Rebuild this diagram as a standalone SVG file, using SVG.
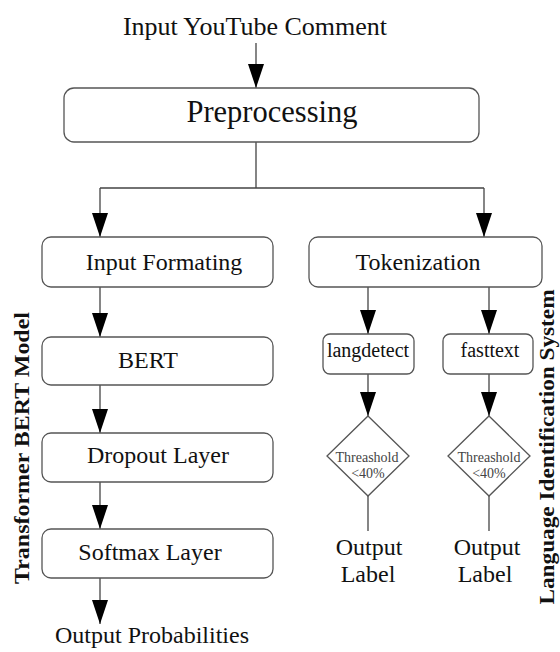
<svg xmlns="http://www.w3.org/2000/svg" width="560" height="652" viewBox="0 0 560 652">
  <style>
    .box { fill: #ffffff; stroke: #555555; stroke-width: 1.3; }
    .dia { fill: #ffffff; stroke: #555555; stroke-width: 1.3; }
    .edge { fill: none; stroke: #444444; stroke-width: 1.3; }
    .t { font-family: "Liberation Serif", "Times New Roman", serif; fill: #111111; text-anchor: middle; }
    .t24 { font-size: 24px; }
    .t20 { font-size: 20px; }
    .small { font-size: 14px; fill: #444444; }
    .side { font-size: 22px; font-weight: bold; }
  </style>
  <defs>
    <marker id="arrowV" viewBox="0 0 24 16" markerWidth="24" markerHeight="16" refX="24" refY="8" orient="auto" markerUnits="userSpaceOnUse">
      <path d="M0,0 L24,8 L0,16 Z" fill="#000000"/>
    </marker>
  </defs>

  <!-- input label -->
  <g id="input">
    <text class="t" x="255" y="35" font-size="26">Input YouTube Comment</text>
  </g>

  <!-- connectors -->
  <g id="connectors">
    <path class="edge" d="M256,43 V88" marker-end="url(#arrowV)"/>
    <path class="edge" d="M256,142 V188 M100,188 H484"/>
    <path class="edge" d="M100,188 V237" marker-end="url(#arrowV)"/>
    <path class="edge" d="M484,188 V237" marker-end="url(#arrowV)"/>
    <path class="edge" d="M100,287 V337" marker-end="url(#arrowV)"/>
    <path class="edge" d="M100,385 V433" marker-end="url(#arrowV)"/>
    <path class="edge" d="M100,482 V529" marker-end="url(#arrowV)"/>
    <path class="edge" d="M100,578 V624" marker-end="url(#arrowV)"/>
    <path class="edge" d="M368,287 V334" marker-end="url(#arrowV)"/>
    <path class="edge" d="M489,287 V334" marker-end="url(#arrowV)"/>
    <path class="edge" d="M368,374 V416" marker-end="url(#arrowV)"/>
    <path class="edge" d="M489,374 V416" marker-end="url(#arrowV)"/>
    <path class="edge" d="M368,496 V531"/>
    <path class="edge" d="M489,496 V531"/>
  </g>

  <g id="preprocessing">
    <rect class="box" x="64" y="88" width="415" height="54" rx="10"/>
    <text class="t" x="272" y="122" font-size="30.5">Preprocessing</text>
  </g>

  <g id="input-formating">
    <rect class="box" x="42" y="237" width="231" height="50" rx="9"/>
    <text class="t t24" x="164" y="270">Input Formating</text>
  </g>

  <g id="bert">
    <rect class="box" x="42" y="337" width="231" height="48" rx="9"/>
    <text class="t t24" x="148" y="368">BERT</text>
  </g>

  <g id="dropout">
    <rect class="box" x="42" y="433" width="231" height="49" rx="9"/>
    <text class="t t24" x="158" y="463">Dropout Layer</text>
  </g>

  <g id="softmax">
    <rect class="box" x="42" y="529" width="231" height="49" rx="9"/>
    <text class="t t24" x="150" y="560">Softmax Layer</text>
  </g>

  <g id="output-probabilities">
    <text class="t t24" x="152" y="643">Output Probabilities</text>
  </g>

  <g id="tokenization">
    <rect class="box" x="309" y="237" width="233" height="50" rx="9"/>
    <text class="t t24" x="418" y="270">Tokenization</text>
  </g>

  <g id="langdetect">
    <rect class="box" x="323" y="334" width="91" height="40" rx="7"/>
    <text class="t t20" x="368" y="357">langdetect</text>
  </g>

  <g id="fasttext">
    <rect class="box" x="443" y="334" width="90" height="40" rx="7"/>
    <text class="t t20" x="490" y="357">fasttext</text>
  </g>

  <g id="threshold-1">
    <path class="dia" d="M368,416 L409,456 L368,496 L327,456 Z"/>
    <text class="t small" x="367" y="462">Threashold</text>
    <text class="t small" x="368" y="478">&lt;40%</text>
  </g>

  <g id="threshold-2">
    <path class="dia" d="M489,416 L530,456 L489,496 L448,456 Z"/>
    <text class="t small" x="489" y="462">Threashold</text>
    <text class="t small" x="489" y="478">&lt;40%</text>
  </g>

  <g id="output-label-1">
    <text class="t t24" x="369" y="555">Output</text>
    <text class="t t24" x="368" y="582">Label</text>
  </g>

  <g id="output-label-2">
    <text class="t t24" x="487" y="555">Output</text>
    <text class="t t24" x="485" y="582">Label</text>
  </g>

  <!-- side captions, stretched along their length -->
  <g id="transformer-label">
    <text class="t side" transform="translate(29,448) rotate(-90)" textLength="272" lengthAdjust="spacingAndGlyphs">Transformer BERT Model</text>
  </g>

  <g id="language-id-label">
    <text class="t side" transform="translate(554,447) rotate(-90)" textLength="315" lengthAdjust="spacingAndGlyphs">Language Identification System</text>
  </g>
</svg>
